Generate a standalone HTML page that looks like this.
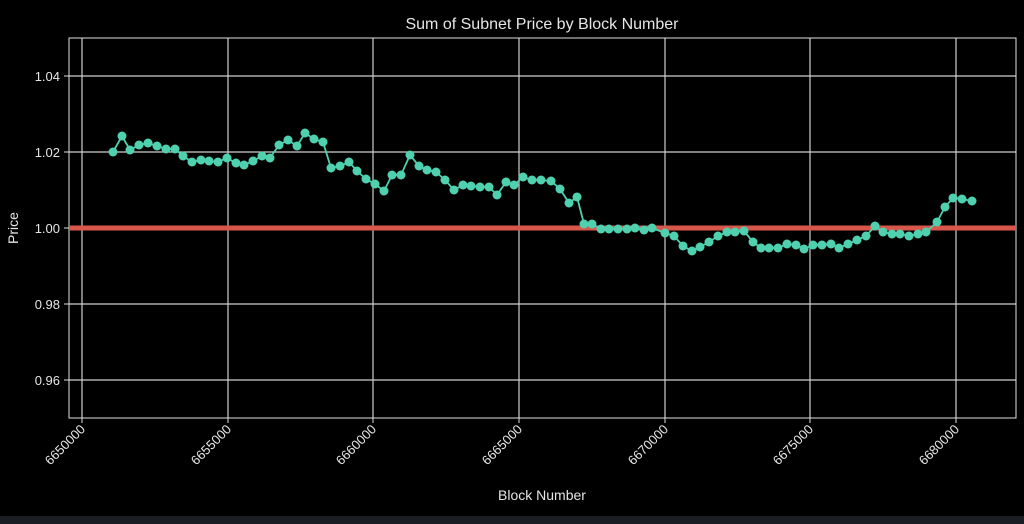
<!DOCTYPE html>
<html><head><style>body{margin:0;background:#000;}svg{display:block}</style></head><body>
<svg width="1024" height="524" xmlns="http://www.w3.org/2000/svg" font-family="Liberation Sans, DejaVu Sans, sans-serif">
<rect width="1024" height="524" fill="#000"/>
<rect x="0" y="516" width="1024" height="8" fill="#1a1d24"/>
<g stroke="#cfcfcf" stroke-width="1.2">
<line x1="69" y1="76" x2="1016" y2="76"/><line x1="69" y1="152" x2="1016" y2="152"/>
<line x1="69" y1="228" x2="1016" y2="228"/><line x1="69" y1="304" x2="1016" y2="304"/>
<line x1="69" y1="380" x2="1016" y2="380"/>
<line x1="82" y1="38" x2="82" y2="418"/><line x1="228" y1="38" x2="228" y2="418"/>
<line x1="373" y1="38" x2="373" y2="418"/><line x1="519" y1="38" x2="519" y2="418"/>
<line x1="665" y1="38" x2="665" y2="418"/><line x1="810" y1="38" x2="810" y2="418"/>
<line x1="956" y1="38" x2="956" y2="418"/>
</g>
<rect x="69" y="38" width="947" height="380" fill="none" stroke="#e0e0e0" stroke-width="1"/>
<g stroke="#e0e0e0"><line x1="64" y1="76" x2="69" y2="76"/><line x1="64" y1="152" x2="69" y2="152"/><line x1="64" y1="228" x2="69" y2="228"/><line x1="64" y1="304" x2="69" y2="304"/><line x1="64" y1="380" x2="69" y2="380"/>
<line x1="82" y1="418" x2="82" y2="423"/><line x1="228" y1="418" x2="228" y2="423"/><line x1="373" y1="418" x2="373" y2="423"/><line x1="519" y1="418" x2="519" y2="423"/><line x1="665" y1="418" x2="665" y2="423"/><line x1="810" y1="418" x2="810" y2="423"/><line x1="956" y1="418" x2="956" y2="423"/></g>
<g fill="#e6e6e6" font-size="13" text-anchor="end">
<text x="60" y="81">1.04</text><text x="60" y="157">1.02</text><text x="60" y="233">1.00</text><text x="60" y="309">0.98</text><text x="60" y="385">0.96</text>
</g>
<g fill="#e6e6e6" font-size="13" text-anchor="end">
<text transform="translate(86,430) rotate(-45)">6650000</text>
<text transform="translate(232,430) rotate(-45)">6655000</text>
<text transform="translate(377,430) rotate(-45)">6660000</text>
<text transform="translate(523,430) rotate(-45)">6665000</text>
<text transform="translate(669,430) rotate(-45)">6670000</text>
<text transform="translate(814,430) rotate(-45)">6675000</text>
<text transform="translate(960,430) rotate(-45)">6680000</text>
</g>
<text x="542" y="29" fill="#e6e6e6" font-size="16" text-anchor="middle">Sum of Subnet Price by Block Number</text>
<text x="542" y="500" fill="#e6e6e6" font-size="14" text-anchor="middle">Block Number</text>
<text transform="translate(18,228) rotate(-90)" fill="#e6e6e6" font-size="14" text-anchor="middle">Price</text>
<line x1="69" y1="228" x2="1016" y2="228" stroke="#d9574a" stroke-width="5"/>
<g id="s">
<polyline fill="none" stroke="#4fd1b0" stroke-width="1.8" points="113,152 122,136 130,150 139,145 148,143 157,146 166,149 175,149 183,156 192,162 201,160 209,161 218,162 227,158 236,163 244,165 253,161 262,156 270,158 279,145 288,140 297,146 305,133 314,139 323,142 331,168 340,166 349,162 357,171 366,179 375,184 384,191 392,175 401,175 410,155 419,166 427,170 436,172 445,180 454,190 463,185 471,186 480,187 489,187 497,195 506,182 514,185 523,177 532,180 541,180 551,181 560,189 569,203 577,197 584,224 592,224 601,229 609,229 618,229 627,229 635,228 644,230 652,228 665,233 674,236 683,246 692,251 700,247 709,242 718,236 727,232 735,232 744,231 753,242 761,248 769,248 778,248 787,244 796,245 804,249 813,245 822,245 831,244 839,248 848,244 857,240 866,236 875,226 883,232 892,234 900,234 909,236 918,234 926,232 937,222 945,207 953,198 962,199 972,201"/>
</g>
<g fill="#4fd1b0" id="pts"></g>
<script>
var p=document.querySelector('#s polyline').getAttribute('points').trim().split(/\s+/);
var g=document.getElementById('pts');
p.forEach(function(s){var c=s.split(',');var e=document.createElementNS('http://www.w3.org/2000/svg','circle');e.setAttribute('cx',c[0]);e.setAttribute('cy',c[1]);e.setAttribute('r','4.5');g.appendChild(e);});
</script>
</svg>
</body></html>
